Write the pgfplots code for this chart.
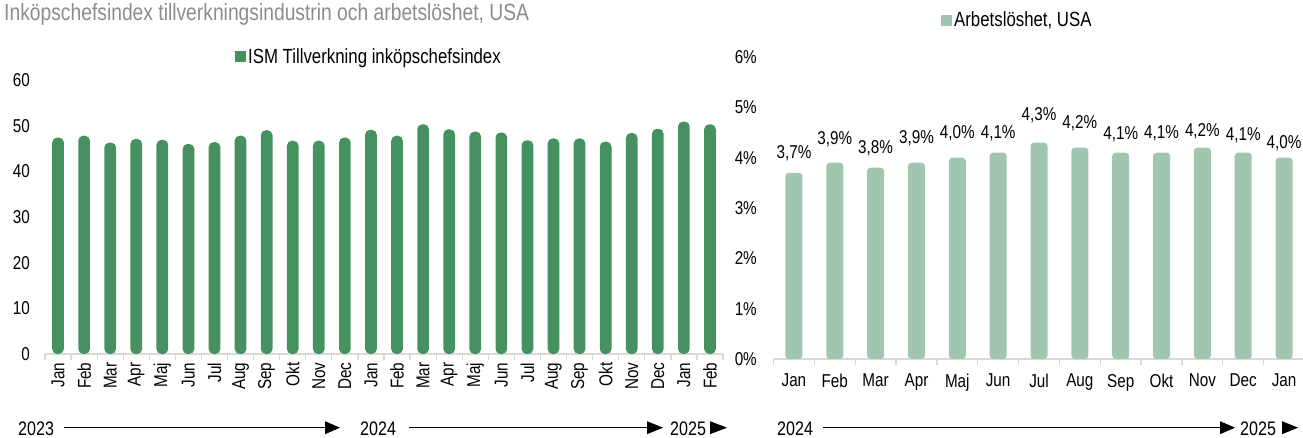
\documentclass[border=0pt]{standalone}
\usepackage{fontspec}
\setmainfont{Liberation Sans}[FakeStretch=0.82]
\usepackage{pgfplots}
\pgfplotsset{compat=1.18}
\usepackage{pgfplotstable}
\definecolor{ismgreen}{HTML}{45915F}
\definecolor{ulgreen}{HTML}{A1C6B0}
\definecolor{axgray}{HTML}{D9D9D9}
\definecolor{titlegray}{HTML}{8C8C8C}

\pgfplotstableread{
x y
0 47.4
1 47.8
2 46.3
3 47.1
4 46.9
5 46.0
6 46.4
7 47.8
8 49.0
9 46.7
10 46.7
11 47.4
12 49.1
13 47.8
14 50.3
15 49.2
16 48.7
17 48.5
18 46.8
19 47.2
20 47.2
21 46.5
22 48.4
23 49.3
24 50.9
25 50.3
}\ismdata

\pgfplotstableread{
x y dy
0 3.7 20
1 3.9 23
2 3.8 20
3 3.9 25
4 4.0 24
5 4.1 19
6 4.3 27
7 4.2 24
8 4.1 18
9 4.1 19
10 4.2 16
11 4.1 17
12 4.0 14
}\uldata

\newcommand{\tickfont}{\fontsize{18.6}{21}\selectfont}
\newcommand{\legfont}{\fontsize{20.5}{23}\selectfont}
\newcommand{\yearfont}{\fontsize{19.6}{22}\selectfont}

\begin{document}
\begin{tikzpicture}
\useasboundingbox (0pt,0pt) rectangle (1303pt,438pt);
\node[anchor=base west, inner sep=0pt, text=titlegray, font=\fontsize{23.5}{26}\selectfont] at (4pt,417pt) {Inköpschefsindex tillverkningsindustrin och arbetslöshet, USA};

\begin{axis}[
  at={(45pt,84pt)}, anchor=south west, scale only axis,
  width=678pt, height=274pt,
  xmin=-0.5, xmax=25.5, ymin=0, ymax=60,
  ybar, bar width=11.7pt,
  axis lines*=left,
  x axis line style={axgray, line width=1.3pt, -},
  y axis line style={draw=none},
  major tick length=0pt, minor tick length=6pt, tick align=outside,
  ytick={0,10,...,60}, yticklabels={0,10,20,30,40,50,60},
  yticklabel style={anchor=east, inner sep=0pt, font=\tickfont},
  yticklabel shift=15pt,
  xtick={0,...,25},
  xticklabels={Jan,Feb,Mar,Apr,Maj,Jun,Jul,Aug,Sep,Okt,Nov,Dec,Jan,Feb,Mar,Apr,Maj,Jun,Jul,Aug,Sep,Okt,Nov,Dec,Jan,Feb},
  xticklabel style={rotate=90, anchor=east, inner sep=0pt, font=\tickfont},
  xticklabel shift=8.5pt,
  minor xtick={-0.5,0.5,...,25.5},
  minor x tick style={axgray, line width=1.3pt},
  major x tick style={draw=none},
  legend style={at={(0.2802,1.084)}, anchor=west, draw=none, fill=none, inner sep=0pt, font=\legfont},
  legend image code/.code={\fill[#1, rounded corners=0pt] (0pt,-5.5pt) rectangle (11pt,5.5pt);},
  clip=false,
]
\addplot[fill=ismgreen, draw=none, rounded corners=5pt] table[x=x,y=y] {\ismdata};
\addlegendentry{ISM Tillverkning inköpschefsindex}
\end{axis}

\begin{axis}[
  at={(773.5pt,79pt)}, anchor=south west, scale only axis,
  width=531pt, height=302pt,
  xmin=-0.5, xmax=12.5, ymin=0, ymax=6,
  ybar, bar width=17pt,
  axis lines*=left,
  x axis line style={axgray, line width=1.3pt, -},
  y axis line style={draw=none},
  major tick length=0pt, minor tick length=6pt, tick align=outside,
  ytick={0,1,...,6}, yticklabels={0\%,1\%,2\%,3\%,4\%,5\%,6\%},
  yticklabel style={anchor=east, inner sep=0pt, font=\tickfont},
  yticklabel shift=16.5pt,
  xtick={0,...,12},
  xticklabels={Jan,Feb,Mar,Apr,Maj,Jun,Jul,Aug,Sep,Okt,Nov,Dec,Jan},
  xticklabel style={anchor=north, inner sep=0pt, font=\tickfont},
  xticklabel shift=15pt,
  minor xtick={-0.5,0.5,...,12.5},
  minor x tick style={axgray, line width=1.3pt},
  major x tick style={draw=none},
  legend style={at={(0.3154,1.1225)}, anchor=west, draw=none, fill=none, inner sep=0pt, font=\legfont},
  legend image code/.code={\fill[#1, rounded corners=0pt] (0pt,-5.5pt) rectangle (11pt,5.5pt);},
  clip=false,
]
\addplot[fill=ulgreen, draw=none, rounded corners=3.5pt,
  nodes near coords={\pgfmathprintnumber[fixed,fixed zerofill,precision=1,use comma,assume math mode=true]{\pgfplotspointmeta}\%},
  visualization depends on={\thisrow{dy}\as\labdy},
  every node near coord/.append style={anchor=center, yshift=\labdy pt, inner sep=0pt, font=\tickfont, text=black}]
  table[x=x,y=y] {\uldata};
\addlegendentry{Arbetslöshet, USA}
\end{axis}

% year annotations
\begin{scope}[font=\yearfont]
\node[anchor=base west, inner sep=0pt] at (18pt,2.3pt) {2023};
\draw[line width=1.3pt] (64pt,10.3pt) -- (326pt,10.3pt);
\fill (325pt,3.8pt) -- (340pt,10.3pt) -- (325pt,16.8pt) -- cycle;
\node[anchor=base west, inner sep=0pt] at (360pt,2.3pt) {2024};
\draw[line width=1.3pt] (409pt,10.3pt) -- (648pt,10.3pt);
\fill (647pt,3.8pt) -- (663pt,10.3pt) -- (647pt,16.8pt) -- cycle;
\node[anchor=base west, inner sep=0pt] at (670pt,2.3pt) {2025};
\fill (710pt,3.8pt) -- (727pt,10.3pt) -- (710pt,16.8pt) -- cycle;
\node[anchor=base west, inner sep=0pt] at (777pt,2.3pt) {2024};
\draw[line width=1.3pt] (823pt,10.3pt) -- (1221pt,10.3pt);
\fill (1220pt,3.8pt) -- (1235pt,10.3pt) -- (1220pt,16.8pt) -- cycle;
\node[anchor=base west, inner sep=0pt] at (1240pt,2.3pt) {2025};
\fill (1282pt,3.8pt) -- (1298pt,10.3pt) -- (1282pt,16.8pt) -- cycle;
\end{scope}
\end{tikzpicture}
\end{document}
